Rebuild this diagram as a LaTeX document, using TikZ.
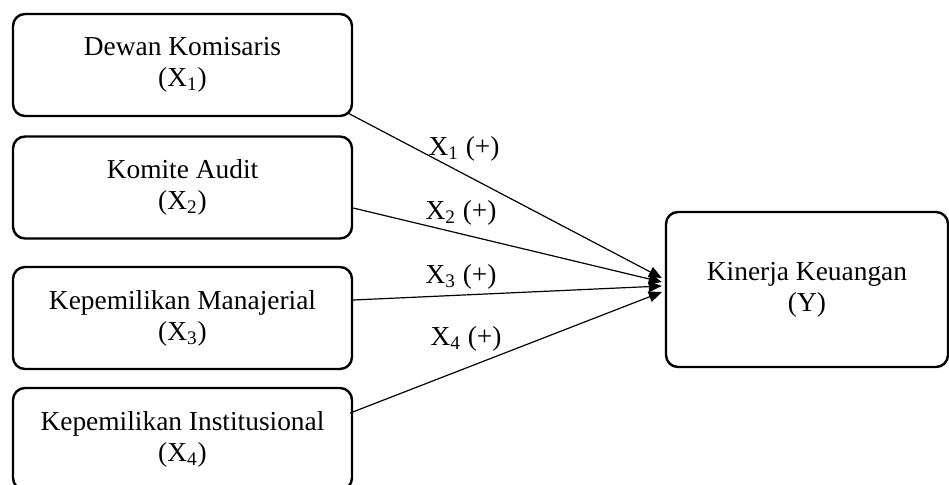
\documentclass[tikz,border=0pt]{standalone}
\usepackage{fontspec}
\setmainfont{Liberation Serif}
\usetikzlibrary{arrows.meta}

\begin{document}
\begin{tikzpicture}[x=0.5pt,y=-0.5pt,>={Triangle[length=6.5pt,width=5.5pt]},
	varbox/.style={draw,line width=1.2pt,rounded corners=6pt,align=center,
		minimum width=169.5pt,minimum height=51pt,inner sep=2pt},
	path/.style={->,line width=0.6pt},
	lbl/.style={inner sep=0pt}]
	\useasboundingbox (0,0) rectangle (949,484);
	\fontsize{13.7}{15.5}\selectfont
	
	% Variables
	\node[varbox] (kom) at (182.5,65) {Dewan Komisaris\\(X\textsubscript{1})};
	\node[varbox] (aud) at (182.5,187.5) {Komite Audit\\(X\textsubscript{2})};
	\node[varbox] (man) at (182.5,318) {Kepemilikan Manajerial\\(X\textsubscript{3})};
	\node[varbox,minimum height=51pt] (ins) at (182.5,439) {Kepemilikan Institusional\\(X\textsubscript{4})};
	
	\node[varbox,minimum width=141pt,minimum height=77.5pt] (kin) at (807,289.5) {Kinerja Keuangan\\(Y)};
	
	% Arrow ends
	\coordinate (t1) at ([yshift=5.75pt,xshift=-1.5pt]kin.west);
	\coordinate (t2) at ([yshift=3.75pt,xshift=-1.5pt]kin.west);
	\coordinate (t3) at ([yshift=1.75pt,xshift=-1.5pt]kin.west);
	\coordinate (t4) at ([yshift=-1.25pt,xshift=-1.5pt]kin.west);
	
	% Hypotheses
	\draw[path] ([xshift=-2.5pt,yshift=2pt]kom.south east) -- (t1);
	\draw[path] ([yshift=-10.25pt]aud.east) -- (t2);
	\draw[path] ([yshift=9pt]man.east) -- (t3);
	\draw[path] ([xshift=-1.5pt,yshift=13pt]ins.east) -- (t4);
	
	\node[lbl] (h1) at (464,149) {X\textsubscript{1} (+)};
	\node[lbl] (h2) at (461,213) {X\textsubscript{2} (+)};
	\node[lbl] (h3) at (461,277) {X\textsubscript{3} (+)};
	\node[lbl] (h4) at (466,339) {X\textsubscript{4} (+)};
	
\end{tikzpicture}
\end{document}
